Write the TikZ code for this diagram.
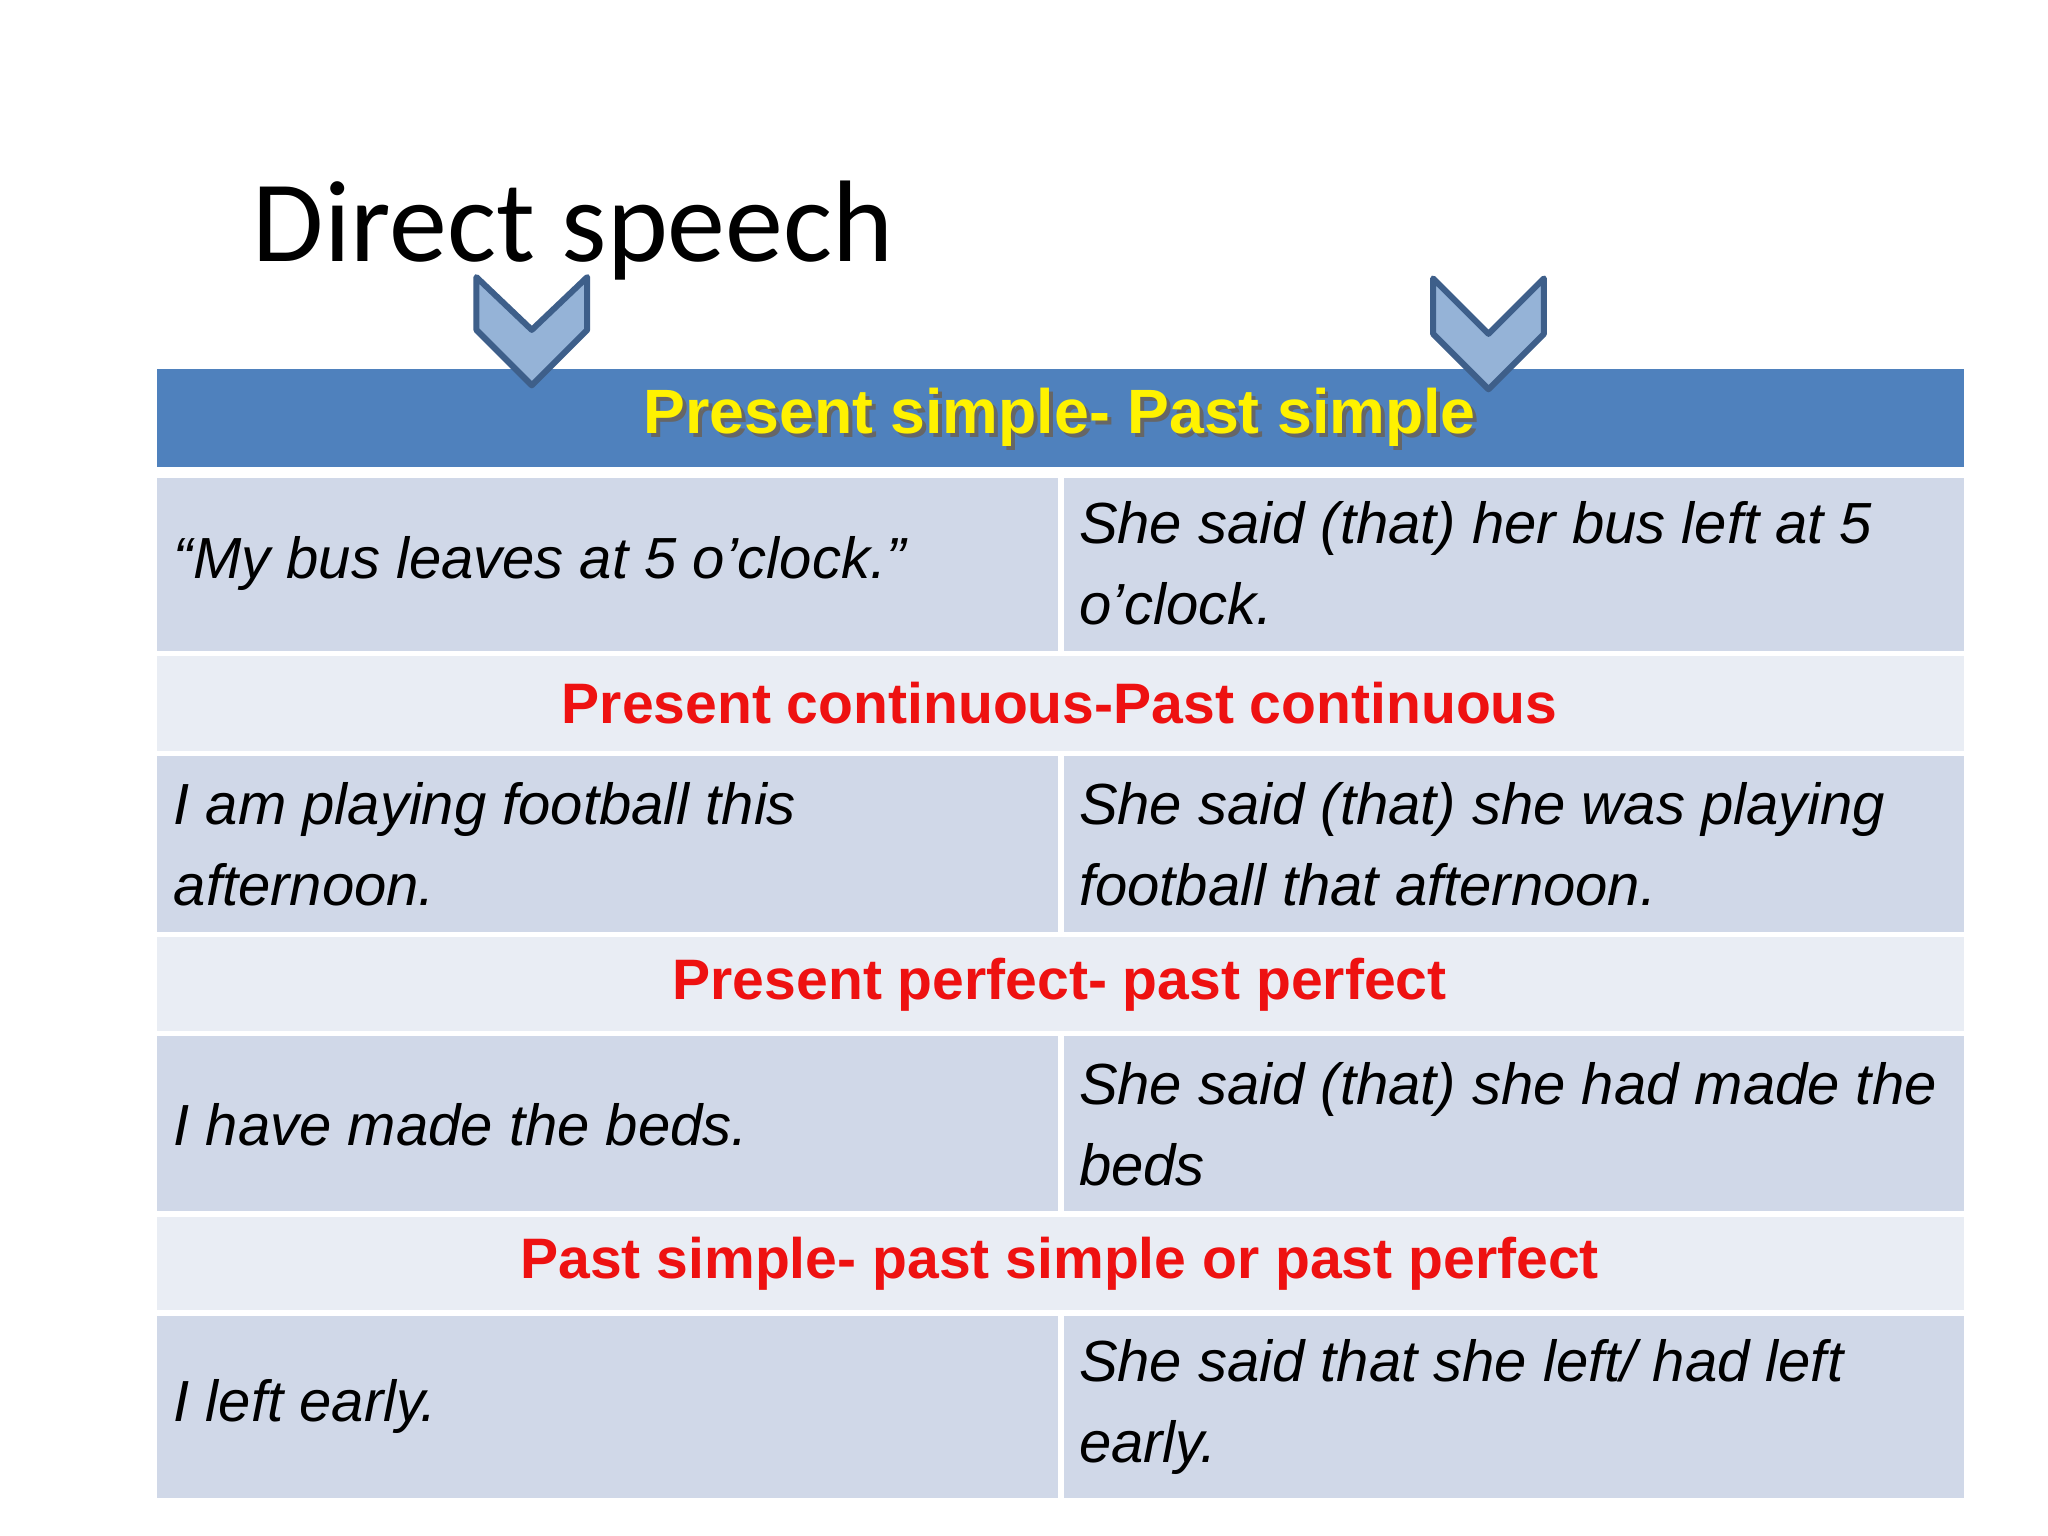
\documentclass[tikz,border=0pt]{standalone}
\usepackage{fontspec}
\setmainfont{Liberation Sans}
\newfontfamily\calib{Carlito}
\definecolor{hdr}{HTML}{4F81BD}
\definecolor{rowA}{HTML}{D0D8E8}
\definecolor{rowB}{HTML}{E9EDF4}
\definecolor{chevF}{HTML}{95B3D7}
\definecolor{chevD}{HTML}{3E5F8A}
\definecolor{redT}{HTML}{EE1111}
\begin{document}
\begin{tikzpicture}[x=0.01cm,y=-0.01cm,
  cell/.style={anchor=west,align=left,font=\fontsize{12.5}{17.5}\selectfont\itshape,inner sep=0pt},
  headT/.style={font=\fontsize{12.3}{14}\selectfont\bfseries,text=redT,inner sep=0pt},
  chev/.style={fill=chevF,draw=chevD,line width=1.3pt,line join=round}]
\useasboundingbox (0,0) rectangle (1552,1164);
\fill[white] (0,0) rectangle (1552,1164);
\node[anchor=west,font=\calib\fontsize{25}{30}\selectfont,inner sep=0pt] (title) at (191,175) {Direct speech};
% header
\fill[hdr] (119,280) rectangle (1488,354);
% rows
\fill[rowA] (119,362) rectangle (802,493);
\fill[rowA] (806,362) rectangle (1488,493);
\fill[rowB] (119,497) rectangle (1488,569);
\fill[rowA] (119,573) rectangle (802,706);
\fill[rowA] (806,573) rectangle (1488,706);
\fill[rowB] (119,710) rectangle (1488,781);
\fill[rowA] (119,785) rectangle (802,918);
\fill[rowA] (806,785) rectangle (1488,918);
\fill[rowB] (119,922) rectangle (1488,993);
\fill[rowA] (119,997) rectangle (802,1135);
\fill[rowA] (806,997) rectangle (1488,1135);
% header text with shadow
\node[font=\fontsize{13.5}{16}\selectfont\bfseries,text=black!60,inner sep=0pt] at (806,319) {Present simple- Past simple};
\node[font=\fontsize{13.5}{16}\selectfont\bfseries,text=yellow,inner sep=0pt] (h1) at (803,316) {Present simple- Past simple};
% chevrons
\draw[chev] (361,210) -- (403,250) -- (445,210) -- (445,250) -- (403,292) -- (361,250) -- cycle;
\draw[chev] (1086,211) -- (1128,253) -- (1170,211) -- (1170,253) -- (1128,295) -- (1086,253) -- cycle;
% texts
\node[cell] (a1) at (131,427) {“My bus leaves at 5 o’clock.”};
\node[cell] (b1) at (817,427) {She said (that) her bus left at 5\\o’clock.};
\node[headT] (h2) at (803,533) {Present continuous-Past continuous};
\node[cell] (a2) at (131,640) {I am playing football this\\afternoon.};
\node[cell] (b2) at (817,640) {She said (that) she was playing\\football that afternoon.};
\node[headT] (h3) at (803,746) {Present perfect- past perfect};
\node[cell] (a3) at (131,852) {I have made the beds.};
\node[cell] (b3) at (817,852) {She said (that) she had made the\\beds};
\node[headT] (h4) at (803,958) {Past simple- past simple or past perfect};
\node[cell] (a4) at (131,1066) {I left early.};
\node[cell] (b4) at (817,1066) {She said that she left/ had left\\early.};
\end{tikzpicture}
\end{document}
